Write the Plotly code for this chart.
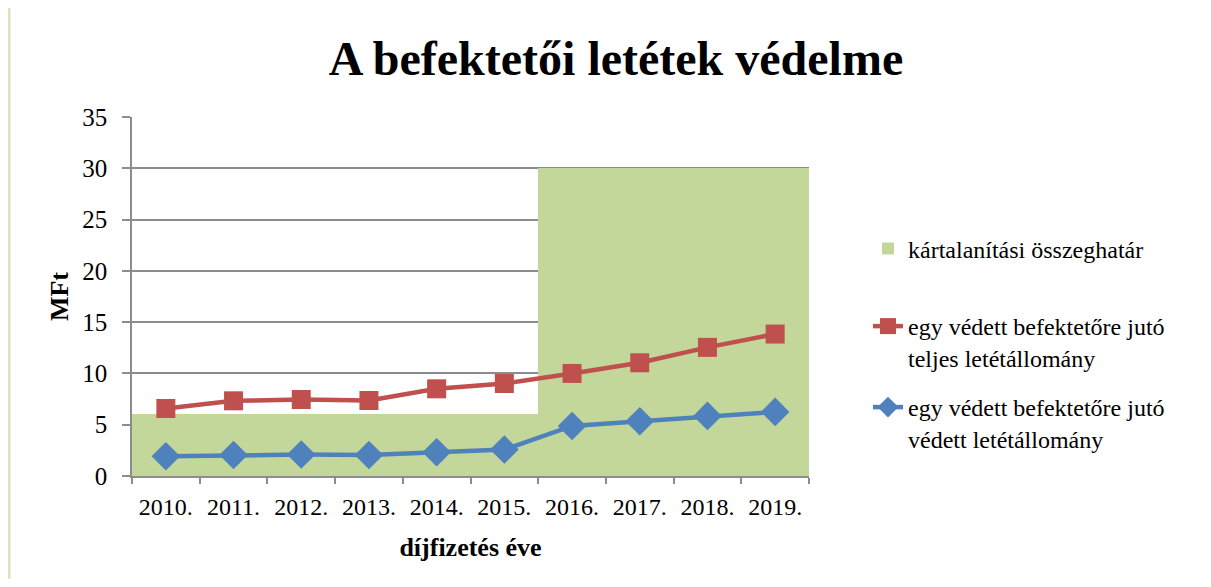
import plotly.graph_objects as go

years = ["2010.", "2011.", "2012.", "2013.", "2014.", "2015.", "2016.", "2017.", "2018.", "2019."]
threshold = [6, 6, 6, 6, 6, 6, 30, 30, 30, 30]
total_deposit = [6.58, 7.33, 7.46, 7.36, 8.5, 9.02, 10.0, 11.04, 12.54, 13.84]
protected_deposit = [1.92, 2.05, 2.09, 2.05, 2.31, 2.58, 4.88, 5.34, 5.86, 6.25]

name_bar = "kártalanítási összeghatár"
name_red = "egy védett befektetőre jutó<br>teljes letétállomány"
name_blue = "egy védett befektetőre jutó<br>védett letétállomány"

FONT = "Liberation Serif, Times New Roman, serif"
GRID = "#8c8c8c"

# page body adds an 8px margin, so the figure is sized to fit the window
W, H = 1195, 571
OFF = 8
PL, PR, PT, PB = 132 - OFF, 809 - OFF, 117 - OFF, 476 - OFF
PW, PH = PR - PL, PB - PT

fig = go.Figure()
fig.add_trace(go.Bar(
    x=years, y=threshold, name=name_bar,
    marker=dict(color="#C4D79B", line=dict(width=0)),
    legend="legend", showlegend=True,
))
fig.add_trace(go.Scatter(
    x=years, y=total_deposit, name=name_red, mode="lines+markers",
    line=dict(color="#C0504D", width=4.5),
    marker=dict(symbol="square", size=19, color="#C0504D"),
    legend="legend2", showlegend=True,
))
fig.add_trace(go.Scatter(
    x=years, y=protected_deposit, name=name_blue, mode="lines+markers",
    line=dict(color="#4F81BD", width=4.5),
    marker=dict(symbol="diamond", size=22, color="#4F81BD"),
    legend="legend3", showlegend=True,
))

leg_common = dict(xanchor="left", yanchor="middle", valign="top",
                  bgcolor="rgba(0,0,0,0)", font=dict(family=FONT, size=24, color="#000"))
LX = (868 - OFF - PL) / PW

fig.update_layout(
    width=W, height=H,
    margin=dict(l=PL, r=W - PR, t=PT, b=H - PB, autoexpand=False),
    paper_bgcolor="white", plot_bgcolor="white",
    bargap=0, showlegend=True,
    font=dict(family=FONT, color="#000"),
    title=dict(text="<b>A befektetői letétek védelme</b>", x=(616 - OFF) / W, xanchor="center",
               y=1 - (58 - OFF) / H, yanchor="middle", font=dict(family=FONT, size=48, color="#000")),
    xaxis=dict(
        type="category", range=[-0.5, 9.5], autorange=False,
        showgrid=False, showline=True, linecolor=GRID, linewidth=1.5,
        ticks="outside", tickson="boundaries", ticklen=6, tickcolor=GRID, tickwidth=1.5,
        ticklabelstandoff=8,
        tickfont=dict(family=FONT, size=24, color="#000"),
        title=dict(text="<b>díjfizetés éve</b>", font=dict(family=FONT, size=26, color="#000"), standoff=19),
    ),
    yaxis=dict(
        range=[0, 35], dtick=5, showgrid=True, gridcolor=GRID, gridwidth=1.5,
        showline=True, linecolor=GRID, linewidth=1.5, zeroline=False,
        ticks="outside", ticklen=8, tickcolor=GRID, tickwidth=1.5,
        ticklabelstandoff=10,
        tickfont=dict(family=FONT, size=25, color="#000"),
        title=dict(text="<b>MFt</b>", font=dict(family=FONT, size=26, color="#000"), standoff=6),
    ),
    legend=dict(x=LX, y=(476 - 249) / 359, **leg_common),
    legend2=dict(x=LX, y=(476 - 342) / 359, **leg_common),
    legend3=dict(x=LX, y=(476 - 423) / 359, **leg_common),
    shapes=[dict(type="line", xref="paper", yref="paper",
                 x0=(9 - OFF - PL) / PW, x1=(9 - OFF - PL) / PW,
                 y0=-(H - PB) / PH, y1=PB / PH,
                 line=dict(color="#D7E4BD", width=3))],
)

fig.write_html("out.html")
